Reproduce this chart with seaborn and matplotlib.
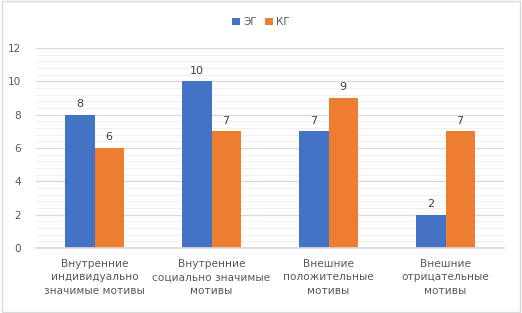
import matplotlib
matplotlib.use("Agg")
import matplotlib.pyplot as plt
import seaborn as sns
import pandas as pd
from matplotlib.ticker import MultipleLocator
from matplotlib.patches import Rectangle

categories = ["Внутренние\nиндивидуально\nзначимые мотивы",
              "Внутренние\nсоциально значимые\nмотивы",
              "Внешние\nположительные\nмотивы",
              "Внешние\nотрицательные\nмотивы"]
series_names = ["ЭГ", "КГ"]
eg_values = [8, 10, 7, 2]
kg_values = [6, 7, 9, 7]
colors = ["#4472C4", "#ED7D31"]

df = pd.DataFrame({
    "cat": categories * 2,
    "grp": [series_names[0]] * 4 + [series_names[1]] * 4,
    "val": eg_values + kg_values,
})

sns.set_theme(style="white")
plt.rcParams['font.family'] = ['DejaVu Sans']
txt = "#595959"

fig = plt.figure(figsize=(5.22, 3.13), dpi=100)
ax = fig.add_axes([36/522, 1 - 248/313, 468/522, 200/313])

sns.barplot(data=df, x="cat", y="val", hue="grp", palette=colors,
            width=0.5, ax=ax, saturation=1, legend=True, linewidth=0, edgecolor="none")

ax.set_ylim(0, 12)
ax.yaxis.set_major_locator(MultipleLocator(2))
ax.yaxis.set_minor_locator(MultipleLocator(0.4))
ax.grid(axis="y", which="major", color="#D9D9D9", linewidth=0.9)
ax.grid(axis="y", which="minor", color="#F0F0F0", linewidth=0.8)
ax.set_axisbelow(True)
for s in ["top", "right", "left"]:
    ax.spines[s].set_visible(False)
ax.spines["bottom"].set_color("#D9D9D9")
ax.set_xlabel("")
ax.set_ylabel("")
ax.tick_params(axis="both", which="both", length=0, colors=txt, labelsize=7.6)
ax.tick_params(axis="y", pad=11)
ax.tick_params(axis="x", pad=8)
for lbl in ax.get_xticklabels():
    lbl.set_linespacing(1.4)

for cont in ax.containers:
    ax.bar_label(cont, fmt="%d", padding=4, fontsize=8, color="#404040")

h, l = ax.get_legend_handles_labels()
ax.legend(h, l, loc="center", bbox_to_anchor=(0.5, (313 - 22) / 313), bbox_transform=fig.transFigure,
          ncol=2, frameon=False, fontsize=7.6, handlelength=0.7, handleheight=0.7,
          handletextpad=0.3, columnspacing=0.8, labelcolor=txt)

fig.patches.append(Rectangle((0.004, 0.004), 0.992, 0.992, transform=fig.transFigure,
                             fill=False, edgecolor="#D9D9D9", linewidth=1))

fig.savefig("out.png", dpi=100)
